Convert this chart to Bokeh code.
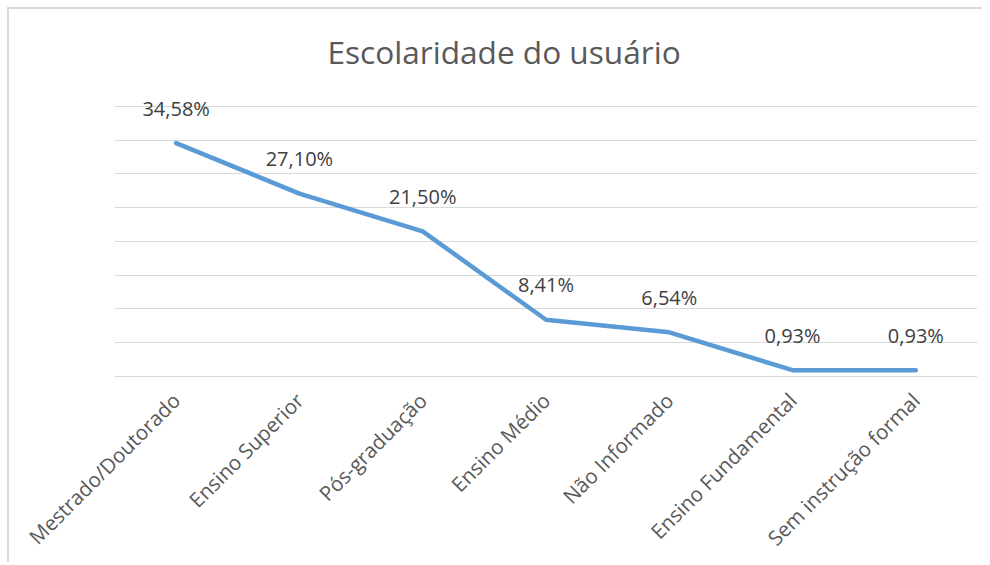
from bokeh.plotting import figure
from bokeh.models import ColumnDataSource, FactorRange, Range1d, SingleIntervalTicker, LabelSet
from bokeh.embed import file_html
from bokeh.resources import INLINE
from bokeh.core.properties import value
import math

categories = ["Mestrado/Doutorado", "Ensino Superior", "Pós-graduação", "Ensino Médio",
              "Não Informado", "Ensino Fundamental", "Sem instrução formal"]
values = [34.58, 27.10, 21.50, 8.41, 6.54, 0.93, 0.93]
value_labels = ["34,58%", "27,10%", "21,50%", "8,41%", "6,54%", "0,93%", "0,93%"]

source = ColumnDataSource(dict(cat=categories, val=values, lab=value_labels))

p = figure(
    width=975, height=555,
    x_range=FactorRange(*categories, range_padding=0),
    y_range=Range1d(-0.15, 44),
    output_backend="svg", toolbar_location=None,
    min_border_left=105, min_border_right=7, min_border_top=70, min_border_bottom=185,
    title="Escolaridade do usuário",
)
p.x_range.factor_padding = 0
p.styles = {"border-top": "2px solid #d9d9d9", "border-left": "2px solid #d9d9d9",
            "margin-left": "7px", "margin-top": "7px"}

p.title.align = "left"
p.title.offset = 213
p.title.text_font = "Open Sans"
p.title.text_font_size = "31.6px"
p.title.text_font_style = "normal"
p.title.text_color = "#595959"
p.title.standoff = 14

p.outline_line_color = None
p.background_fill_color = "white"
p.border_fill_color = "white"

p.line("cat", "val", source=source, line_color="#5B9BD5", line_width=4.5, line_cap="round", line_join="round")

labels = LabelSet(x="cat", y="val", text="lab", source=source, y_offset=35,
                  text_align="center", text_baseline="middle",
                  text_font=value("Open Sans"), text_font_size="20px", text_color="#404040")
p.add_layout(labels)

p.yaxis.visible = False
p.yaxis.ticker = SingleIntervalTicker(interval=5)
p.ygrid.ticker = SingleIntervalTicker(interval=5)
p.ygrid.grid_line_color = "#d9d9d9"
p.ygrid.grid_line_width = 1
p.xgrid.grid_line_color = None

p.xaxis.axis_line_color = None
p.xaxis.major_tick_line_color = None
p.xaxis.minor_tick_line_color = None
p.xaxis.major_label_orientation = math.pi / 4
p.xaxis.major_label_text_font = "Open Sans"
p.xaxis.major_label_text_font_size = "20.5px"
p.xaxis.major_label_text_color = "#595959"
p.xaxis.major_label_standoff = 13

open("out.html", "w").write(file_html(p, INLINE))
